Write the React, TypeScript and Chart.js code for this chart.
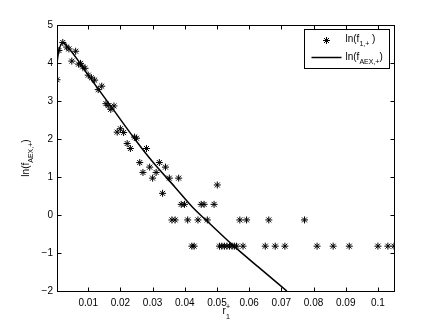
import React, { useEffect, useRef } from "react";
import { Chart, registerables } from "chart.js";

Chart.register(...registerables);

// Scatter: ln(f_{1,+})
const SCATTER_X = [
  0.0003, 0.0009, 0.0021, 0.0033, 0.004, 0.0061, 0.0049, 0.007, 0.0076, 0.0083,
  0.009, 0.01, 0.011, 0.012, 0.0131, 0.0142, 0.0155, 0.0162, 0.017, 0.018,
  0.019, 0.02, 0.021, 0.0221, 0.0231, 0.0244, 0.025, 0.0281, 0.026, 0.027,
  0.0291, 0.03, 0.0311, 0.0321, 0.034, 0.0352, 0.0381, 0.0331, 0.0389, 0.0399,
  0.0451, 0.046, 0.0491, 0.0501, 0.036, 0.037, 0.0409, 0.0441, 0.047, 0.0571,
  0.0592, 0.0661, 0.0772, 0.0422, 0.0429, 0.0508, 0.0515, 0.0523, 0.0531, 0.0539,
  0.0547, 0.0554, 0.0561, 0.0581, 0.065, 0.0681, 0.0711, 0.0811, 0.0861, 0.0911,
  0.1, 0.1031, 0.105,
];
const SCATTER_Y = [
  3.56, 4.33, 4.54, 4.42, 4.37, 4.31, 4.05, 3.97, 3.99, 3.9,
  3.86, 3.68, 3.61, 3.55, 3.3, 3.39, 2.93, 2.88, 2.78, 2.87,
  2.18, 2.27, 2.17, 1.88, 1.75, 2.05, 2.02, 1.75, 1.38, 1.12,
  1.26, 0.97, 1.12, 1.38, 1.26, 0.97, 0.97, 0.57, 0.28, 0.28,
  0.28, 0.28, 0.28, 0.79, -0.13, -0.13, -0.13, -0.13, -0.13, -0.13,
  -0.13, -0.13, -0.13, -0.82, -0.82, -0.82, -0.82, -0.82, -0.82, -0.82,
  -0.82, -0.82, -0.82, -0.82, -0.82, -0.82, -0.82, -0.82, -0.82, -0.82,
  -0.82, -0.82, -0.82,
];

// Line: ln(f_{AEX,+})
const CURVE_X = [0.0003, 0.0008, 0.0015, 0.0022, 0.004, 0.007, 0.01, 0.0168, 0.0248, 0.03, 0.0369, 0.0425, 0.0478, 0.055, 0.063, 0.0717];
const CURVE_Y = [4.0, 4.3, 4.48, 4.53, 4.38, 4.05, 3.68, 2.89, 1.96, 1.4, 0.74, 0.2, -0.23, -0.8, -1.38, -2.0];

const X_TICKS = [0.01, 0.02, 0.03, 0.04, 0.05, 0.06, 0.07, 0.08, 0.09, 0.1];
const Y_TICKS = [-2, -1, 0, 1, 2, 3, 4, 5];
const X_MIN = 0.0003;
const X_MAX = 0.105;
const Y_MIN = -2;
const Y_MAX = 5;

const FONT = '"Liberation Sans", Arial, Helvetica, sans-serif';

type Part = { t: string; s: number; dy: number };

function richWidth(ctx: CanvasRenderingContext2D, parts: Part[]) {
  let w = 0;
  for (const p of parts) {
    ctx.font = `${p.s}px ${FONT}`;
    w += ctx.measureText(p.t).width;
  }
  return w;
}

function drawRich(ctx: CanvasRenderingContext2D, parts: Part[], x: number, y: number) {
  let cx = x;
  ctx.textBaseline = "alphabetic";
  ctx.textAlign = "left";
  for (const p of parts) {
    ctx.font = `${p.s}px ${FONT}`;
    ctx.fillText(p.t, cx, y + p.dy);
    cx += ctx.measureText(p.t).width;
  }
}

function drawStar(ctx: CanvasRenderingContext2D, x: number, y: number, r: number) {
  const d = r * Math.SQRT1_2;
  ctx.beginPath();
  ctx.moveTo(x - r, y); ctx.lineTo(x + r, y);
  ctx.moveTo(x, y - r); ctx.lineTo(x, y + r);
  ctx.moveTo(x - d, y - d); ctx.lineTo(x + d, y + d);
  ctx.moveTo(x - d, y + d); ctx.lineTo(x + d, y - d);
  ctx.stroke();
}

const LEGEND_1: Part[] = [
  { t: "ln(f", s: 10, dy: 0 },
  { t: "1,+", s: 7, dy: 4 },
  { t: " )", s: 10, dy: 0 },
];
const LEGEND_2: Part[] = [
  { t: "ln(f", s: 10, dy: 0 },
  { t: "AEX,+", s: 7, dy: 4 },
  { t: ")", s: 10, dy: 0 },
];
const Y_TITLE: Part[] = [
  { t: "ln(f", s: 10, dy: 0 },
  { t: "AEX,+", s: 7, dy: 4 },
  { t: ")", s: 10, dy: 0 },
];

const decorPlugin = {
  id: "decor",
  afterDraw(chart: any) {
    const ctx: CanvasRenderingContext2D = chart.ctx;
    const { left, right, top, bottom } = chart.chartArea;
    const xs = chart.scales.x;
    const ys = chart.scales.y;
    ctx.save();
    ctx.strokeStyle = "#000";
    ctx.fillStyle = "#000";
    ctx.lineWidth = 1;
    const L = Math.round(left) + 0.5;
    const R = Math.round(right) + 0.5;
    const T = Math.round(top) + 0.5;
    const B = Math.round(bottom) + 0.5;
    ctx.strokeRect(L, T, R - L, B - T);
    const tl = 4;
    ctx.beginPath();
    for (const v of X_TICKS) {
      const px = Math.round(xs.getPixelForValue(v)) + 0.5;
      ctx.moveTo(px, B); ctx.lineTo(px, B - tl);
      ctx.moveTo(px, T); ctx.lineTo(px, T + tl);
    }
    for (const v of Y_TICKS) {
      const py = Math.round(ys.getPixelForValue(v)) + 0.5;
      ctx.moveTo(L, py); ctx.lineTo(L + tl, py);
      ctx.moveTo(R, py); ctx.lineTo(R - tl, py);
    }
    ctx.stroke();

    // legend box
    const lw = 85, lh = 39;
    const lx = R - 5 - lw;
    const ly = T + 4;
    ctx.fillStyle = "#fff";
    ctx.fillRect(lx, ly, lw, lh);
    ctx.strokeRect(lx, ly, lw, lh);
    ctx.fillStyle = "#000";
    drawStar(ctx, lx + 22, ly + 11, 3.5);
    drawRich(ctx, LEGEND_1, lx + 41, ly + 12.5);
    ctx.beginPath();
    ctx.lineWidth = 1.5;
    ctx.moveTo(lx + 7, ly + 28);
    ctx.lineTo(lx + 37, ly + 28);
    ctx.stroke();
    drawRich(ctx, LEGEND_2, lx + 41, ly + 30);

    // x title r_1^+
    const cx = (left + right) / 2;
    ctx.font = `10px ${FONT}`;
    ctx.textAlign = "left";
    ctx.textBaseline = "alphabetic";
    ctx.fillText("r", cx - 3, 313.5);
    ctx.font = `7px ${FONT}`;
    ctx.fillText("+", cx + 0.5, 309);
    ctx.fillText("1", cx + 0.5, 319);

    // y title rotated
    const cy = (top + bottom) / 2;
    const w = richWidth(ctx, Y_TITLE);
    ctx.translate(29, cy);
    ctx.rotate(-Math.PI / 2);
    drawRich(ctx, Y_TITLE, -w / 2, 0);
    ctx.restore();
  },
};

export default function App() {
  const ref = useRef<HTMLCanvasElement | null>(null);
  useEffect(() => {
    if (!ref.current) return;
    const chart = new Chart(ref.current, {
      type: "scatter",
      data: {
        datasets: [
          {
            label: "ln(f1,+)",
            data: SCATTER_X.map((x, i) => ({ x, y: SCATTER_Y[i] })),
            pointStyle: "star",
            pointRadius: 3.5,
            pointBorderWidth: 1,
            borderColor: "#000",
            backgroundColor: "#000",
            showLine: false,
          },
          {
            label: "ln(fAEX,+)",
            data: CURVE_X.map((x, i) => ({ x, y: CURVE_Y[i] })),
            showLine: true,
            pointRadius: 0,
            borderColor: "#000",
            borderWidth: 1.5,
            cubicInterpolationMode: "monotone",
            fill: false,
          },
        ],
      },
      options: {
        responsive: false,
        animation: false,
        events: [],
        layout: { padding: { left: 0, top: 25, right: 42, bottom: 0 } },
        plugins: { legend: { display: false }, tooltip: { enabled: false } },
        scales: {
          x: {
            type: "linear",
            min: X_MIN,
            max: X_MAX,
            afterBuildTicks: (s: any) => { s.ticks = X_TICKS.map((v) => ({ value: v })); },
            afterFit: (s: any) => { s.height = 37; },
            grid: { display: false, drawTicks: false },
            border: { display: false },
            ticks: {
              padding: 6,
              color: "#000",
              font: { family: FONT, size: 10 },
              maxRotation: 0,
              autoSkip: false,
              callback: (v: any) => String(Number(Number(v).toFixed(3))),
            },
          },
          y: {
            type: "linear",
            min: Y_MIN,
            max: Y_MAX,
            afterBuildTicks: (s: any) => { s.ticks = Y_TICKS.map((v) => ({ value: v })); },
            afterFit: (s: any) => { s.width = 57; },
            grid: { display: false, drawTicks: false },
            border: { display: false },
            ticks: {
              padding: 4,
              color: "#000",
              font: { family: FONT, size: 10 },
              autoSkip: false,
              callback: (v: any) => (Number(v) < 0 ? "\u2212" + Math.abs(Number(v)) : String(v)),
            },
          },
        },
      },
      plugins: [decorPlugin],
    } as any);
    return () => chart.destroy();
  }, []);
  return (
    <div style={{ position: "fixed", left: 0, top: 0, width: 436, height: 328, background: "#fff" }}>
      <canvas ref={ref} width={436} height={328} />
    </div>
  );
}
